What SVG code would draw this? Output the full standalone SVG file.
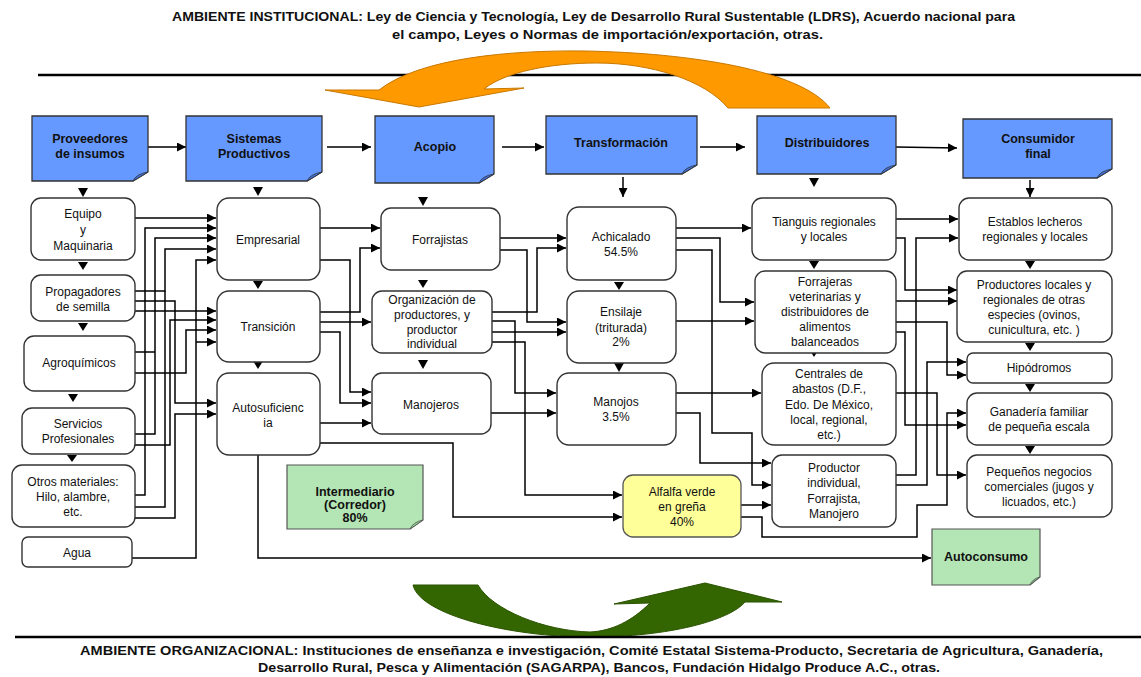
<svg xmlns="http://www.w3.org/2000/svg" width="1141" height="677" viewBox="0 0 1141 677">
<defs>
<marker id="ah" viewBox="0 0 10 10" refX="10" refY="5" markerWidth="10" markerHeight="9" markerUnits="userSpaceOnUse" orient="auto"><path d="M0,0 L10,5 L0,10 z" fill="#000"/></marker>
<style>
text{font-family:"Liberation Sans",Arial,sans-serif;fill:#111;text-anchor:middle}
.t{font-size:12px}
.h{font-size:12.5px;font-weight:bold}
.amb{font-size:13px;font-weight:bold;text-anchor:start}
.hdr{fill:#6699ff;stroke:#333;stroke-width:1.3}
.fold{fill:#3f6fd8;stroke:#333;stroke-width:0.8}
.node{fill:#fff;stroke:#333;stroke-width:1.4}
.grn{fill:#b4e5b4;stroke:#555;stroke-width:1.2}
.gfold{fill:#8fcf8f;stroke:#555;stroke-width:0.8}
.yel{fill:#ffff99;stroke:#555;stroke-width:1.3}
.c{fill:none;stroke:#000;stroke-width:1.5;marker-end:url(#ah)}
.cn{fill:none;stroke:#000;stroke-width:1.5}
.tri{fill:#000}
</style>
</defs>
<rect width="1141" height="677" fill="#fff"/>

<g id="ambiente-institucional">
<text class="amb" x="172" y="21" textLength="843" lengthAdjust="spacingAndGlyphs">AMBIENTE INSTITUCIONAL: Ley de Ciencia y Tecnología, Ley de Desarrollo Rural Sustentable (LDRS), Acuerdo nacional para</text>
<text class="amb" x="392" y="39" textLength="431" lengthAdjust="spacingAndGlyphs">el campo, Leyes o Normas de importación/exportación, otras.</text>
<line x1="38" y1="75" x2="1141" y2="75" stroke="#000" stroke-width="2.5"/>
<path d="M325,90 L379,90 C420,58 510,50 585,51 C690,53 800,70 830,108 L728,108 C705,80 650,63 597,63 C550,63 505,72 484,89 L524,88 L419,107 Z" fill="#ff9900" stroke="#c87800" stroke-width="1"/>
</g>

<g id="ambiente-organizacional">
<path d="M413,585 C420,615 510,637 590,637 C670,637 730,620 745,602 L782,602 L705,583 L614,604 L650,603 C632,621 612,631 590,632 C545,631 492,610 478,585 Z" fill="#336600" stroke="#2a5200" stroke-width="1"/>
<line x1="15" y1="637" x2="1141" y2="637" stroke="#000" stroke-width="2.5"/>
<text class="amb" x="80" y="655" textLength="1023" lengthAdjust="spacingAndGlyphs">AMBIENTE ORGANIZACIONAL: Instituciones de enseñanza e investigación, Comité Estatal Sistema-Producto, Secretaria de Agricultura, Ganadería,</text>
<text class="amb" x="258" y="672" textLength="682" lengthAdjust="spacingAndGlyphs">Desarrollo Rural, Pesca y Alimentación (SAGARPA), Bancos, Fundación Hidalgo Produce A.C., otras.</text>
</g>

<g id="connectors">
<path class="c" d="M148,147 H186"/>
<path class="c" d="M327,147 H371"/>
<path class="c" d="M502,147 H544"/>
<path class="c" d="M700,147 H745"/>
<path class="c" d="M896,147 L957,148"/>
<polygon class="tri" points="78,188 88,188 83,197"/>
<polygon class="tri" points="78,262 88,262 83,270"/>
<polygon class="tri" points="78,323 88,323 83,331"/>
<polygon class="tri" points="68,394 78,394 73,402"/>
<polygon class="tri" points="67,455 77,455 72,462"/>
<polygon class="tri" points="253,187 263,187 258,196"/>
<polygon class="tri" points="253,281 263,281 258,289"/>
<polygon class="tri" points="253,361 263,361 258,369"/>
<polygon class="tri" points="418,197 428,197 423,206"/>
<polygon class="tri" points="418,280 428,280 423,288"/>
<polygon class="tri" points="418,360 428,360 423,369"/>
<path class="c" d="M623,177 V197"/>
<polygon class="tri" points="614,282 624,282 619,290"/>
<polygon class="tri" points="614,363 624,363 619,372"/>
<polygon class="tri" points="809,178 819,178 814,187"/>
<polygon class="tri" points="809,261 819,261 814,269"/>
<polygon class="tri" points="809,349 819,349 814,357"/>
<path class="c" d="M1030,180 V197"/>
<polygon class="tri" points="1025,261 1035,261 1030,269"/>
<polygon class="tri" points="1025,343 1035,343 1030,351"/>
<polygon class="tri" points="1025,384 1035,384 1030,392"/>
<polygon class="tri" points="1025,446 1035,446 1030,454"/>

<path class="c" d="M135,218 H216"/>
<path class="c" d="M135,495 H145 V228 H216"/>
<path class="c" d="M135,434 H155 V238 H216"/>
<path class="cn" d="M135,352 H155"/>
<path class="c" d="M135,291 H165 V249 H216"/>
<path class="cn" d="M135,507 H165 V291"/>
<path class="c" d="M135,445 H170 V320 H216"/>
<path class="c" d="M135,301 H175 V403 H216"/>
<path class="c" d="M135,518 H175 V414 H216"/>
<path class="c" d="M135,373 H186 V330 H216"/>
<path class="c" d="M132,558 H196 V260 H216"/>
<path class="c" d="M196,342 H216"/>
<path class="c" d="M135,311 H216"/>

<path class="c" d="M320,228 H380"/>
<path class="c" d="M320,312 H360 V248 H380"/>
<path class="c" d="M320,260 H350 V392 H371"/>
<path class="c" d="M320,322 H371"/>
<path class="c" d="M320,332 H340 V403 H371"/>
<path class="c" d="M320,423 H371"/>
<path class="c" d="M320,443 H453 V517 H622"/>
<path class="c" d="M258,455 V558 H931"/>

<path class="c" d="M500,238 H566"/>
<path class="c" d="M500,250 H527 V322 H566"/>
<path class="c" d="M492,312 H537 V248 H566"/>
<path class="c" d="M492,321 H515 V393 H556"/>
<path class="c" d="M492,332 H566"/>
<path class="c" d="M492,342 H525 V495 H622"/>
<path class="c" d="M491,413 H556"/>

<path class="c" d="M676,228 H751"/>
<path class="c" d="M676,238 H720 V302 H754"/>
<path class="c" d="M676,250 H712 V433 H752 V485 H771"/>
<path class="c" d="M676,321 H754"/>
<path class="c" d="M676,393 H761"/>
<path class="c" d="M676,413 H700 V463 H771"/>
<path class="c" d="M741,505 H771"/>
<path class="c" d="M741,517 H762 V537 H917 V505 H947 V413 H966"/>

<path class="c" d="M896,219 H958"/>
<path class="c" d="M896,238 H905 V290 H957"/>
<path class="c" d="M896,475 H916 V238 H958"/>
<path class="c" d="M896,301 H957"/>
<path class="c" d="M896,322 H947 V375 H966"/>
<path class="c" d="M896,332 H905 V425 H966"/>
<path class="c" d="M896,393 H937 V475 H966"/>
<path class="c" d="M896,485 H927 V362 H966"/>
</g>

<g id="proveedores">
<path class="hdr" d="M32,116 H148 V172 L133,181 H32 Z"/>
<path class="fold" d="M133,181 Q136,174 148,172 Q140,177 133,181 Z"/>
<text class="h" x="90" y="143">Proveedores</text>
<text class="h" x="90" y="158">de insumos</text>
</g>
<g id="sistemas">
<path class="hdr" d="M186,116 H322 V172 L307,181 H186 Z"/>
<path class="fold" d="M307,181 Q310,174 322,172 Q314,177 307,181 Z"/>
<text class="h" x="254" y="143">Sistemas</text>
<text class="h" x="254" y="158">Productivos</text>
</g>
<g id="acopio">
<path class="hdr" d="M375,116 H494 V174 L479,183 H375 Z"/>
<path class="fold" d="M479,183 Q482,176 494,174 Q486,179 479,183 Z"/>
<text class="h" x="435" y="151">Acopio</text>
</g>
<g id="transformacion">
<path class="hdr" d="M546,116 H697 V165 L682,174 H546 Z"/>
<path class="fold" d="M682,174 Q685,167 697,165 Q689,170 682,174 Z"/>
<text class="h" x="621" y="147">Transformación</text>
</g>
<g id="distribuidores">
<path class="hdr" d="M757,116 H896 V165 L881,174 H757 Z"/>
<path class="fold" d="M881,174 Q884,167 896,165 Q888,170 881,174 Z"/>
<text class="h" x="827" y="147">Distribuidores</text>
</g>
<g id="consumidor">
<path class="hdr" d="M963,119 H1112 V169 L1097,178 H963 Z"/>
<path class="fold" d="M1097,178 Q1100,171 1112,169 Q1104,174 1097,178 Z"/>
<text class="h" x="1038" y="143">Consumidor</text>
<text class="h" x="1038" y="158">final</text>
</g>

<g id="equipo"><rect class="node" x="31" y="198" width="104" height="62" rx="10"/>
<text class="t" x="83" y="218">Equipo</text><text class="t" x="83" y="234">y</text><text class="t" x="83" y="250">Maquinaria</text></g>
<g id="propagadores"><rect class="node" x="31" y="275" width="104" height="46" rx="10"/>
<text class="t" x="83" y="296">Propagadores</text><text class="t" x="83" y="311">de semilla</text></g>
<g id="agroquimicos"><rect class="node" x="24" y="336" width="111" height="55" rx="10"/>
<text class="t" x="79" y="367">Agroquímicos</text></g>
<g id="servicios"><rect class="node" x="22" y="408" width="113" height="46" rx="10"/>
<text class="t" x="78" y="428">Servicios</text><text class="t" x="78" y="443">Profesionales</text></g>
<g id="otros"><rect class="node" x="12" y="465" width="123" height="62" rx="10"/>
<text class="t" x="73" y="486">Otros materiales:</text><text class="t" x="73" y="501">Hilo, alambre,</text><text class="t" x="73" y="516">etc.</text></g>
<g id="agua"><rect class="node" x="22" y="537" width="110" height="30" rx="6"/>
<text class="t" x="77" y="557">Agua</text></g>

<g id="empresarial"><rect class="node" x="217" y="198" width="103" height="82" rx="12"/>
<text class="t" x="268" y="244">Empresarial</text></g>
<g id="transicion"><rect class="node" x="217" y="291" width="103" height="71" rx="12"/>
<text class="t" x="268" y="331">Transición</text></g>
<g id="autosuficiencia"><rect class="node" x="217" y="373" width="103" height="82" rx="12"/>
<text class="t" x="268" y="412">Autosuficienc</text><text class="t" x="268" y="427">ia</text></g>

<g id="forrajistas"><rect class="node" x="381" y="208" width="119" height="62" rx="10"/>
<text class="t" x="440" y="244">Forrajistas</text></g>
<g id="organizacion"><rect class="node" x="372" y="291" width="120" height="62" rx="10"/>
<text class="t" x="432" y="304">Organización de</text><text class="t" x="432" y="319">productores, y</text><text class="t" x="432" y="334">productor</text><text class="t" x="432" y="348">individual</text></g>
<g id="manojeros"><rect class="node" x="372" y="373" width="119" height="61" rx="10"/>
<text class="t" x="431" y="409">Manojeros</text></g>

<g id="achicalado"><rect class="node" x="567" y="207" width="109" height="73" rx="12"/>
<text class="t" x="621" y="241">Achicalado</text><text class="t" x="621" y="256">54.5%</text></g>
<g id="ensilaje"><rect class="node" x="567" y="291" width="109" height="72" rx="12"/>
<text class="t" x="621" y="316">Ensilaje</text><text class="t" x="621" y="332">(triturada)</text><text class="t" x="621" y="346">2%</text></g>
<g id="manojos"><rect class="node" x="557" y="373" width="119" height="72" rx="12"/>
<text class="t" x="616" y="406">Manojos</text><text class="t" x="616" y="421">3.5%</text></g>

<g id="intermediario"><path class="grn" d="M287,465 H423 V520 L410,529 H287 Z"/>
<path class="gfold" d="M410,529 Q413,522 423,520 Q416,525 410,529 Z"/>
<text class="h" x="355" y="496">Intermediario</text><text class="h" x="355" y="509">(Corredor)</text><text class="h" x="355" y="522">80%</text></g>
<g id="alfalfa"><rect class="yel" x="623" y="475" width="118" height="62" rx="10"/>
<text class="t" x="682" y="496">Alfalfa verde</text><text class="t" x="682" y="511">en greña</text><text class="t" x="682" y="526">40%</text></g>

<g id="tianguis"><rect class="node" x="752" y="198" width="144" height="62" rx="10"/>
<text class="t" x="824" y="226">Tianguis regionales</text><text class="t" x="824" y="241">y locales</text></g>
<g id="forrajeras"><rect class="node" x="755" y="271" width="141" height="82" rx="10"/>
<text class="t" x="825" y="286">Forrajeras</text><text class="t" x="825" y="301">veterinarias y</text><text class="t" x="825" y="316">distribuidores de</text><text class="t" x="825" y="331">alimentos</text><text class="t" x="825" y="346">balanceados</text></g>
<g id="centrales"><rect class="node" x="762" y="363" width="134" height="82" rx="12"/>
<text class="t" x="829" y="378">Centrales de</text><text class="t" x="829" y="393">abastos (D.F.,</text><text class="t" x="829" y="409">Edo. De México,</text><text class="t" x="829" y="424">local, regional,</text><text class="t" x="829" y="439">etc.)</text></g>
<g id="productor"><rect class="node" x="772" y="455" width="124" height="72" rx="10"/>
<text class="t" x="834" y="472">Productor</text><text class="t" x="834" y="487">individual,</text><text class="t" x="834" y="503">Forrajista,</text><text class="t" x="834" y="518">Manojero</text></g>

<g id="establos"><rect class="node" x="959" y="198" width="153" height="62" rx="10"/>
<text class="t" x="1035" y="226">Establos lecheros</text><text class="t" x="1035" y="241">regionales y locales</text></g>
<g id="productores-locales"><rect class="node" x="957" y="271" width="155" height="71" rx="10"/>
<text class="t" x="1034" y="289">Productores locales y</text><text class="t" x="1034" y="304">regionales de otras</text><text class="t" x="1034" y="319">especies (ovinos,</text><text class="t" x="1034" y="334">cunicultura, etc. )</text></g>
<g id="hipodromos"><rect class="node" x="967" y="353" width="145" height="30" rx="6"/>
<text class="t" x="1039" y="372">Hipódromos</text></g>
<g id="ganaderia"><rect class="node" x="967" y="393" width="145" height="52" rx="10"/>
<text class="t" x="1039" y="416">Ganadería familiar</text><text class="t" x="1039" y="431">de pequeña escala</text></g>
<g id="pequenos"><rect class="node" x="967" y="455" width="145" height="62" rx="10"/>
<text class="t" x="1039" y="476">Pequeños negocios</text><text class="t" x="1039" y="491">comerciales (jugos y</text><text class="t" x="1039" y="506">licuados, etc.)</text></g>

<g id="autoconsumo"><path class="grn" d="M932,529 H1040 V577 L1030,585 H932 Z"/>
<path class="gfold" d="M1030,585 Q1032,579 1040,577 Q1034,581 1030,585 Z"/>
<text class="h" x="986" y="561">Autoconsumo</text></g>
</svg>
